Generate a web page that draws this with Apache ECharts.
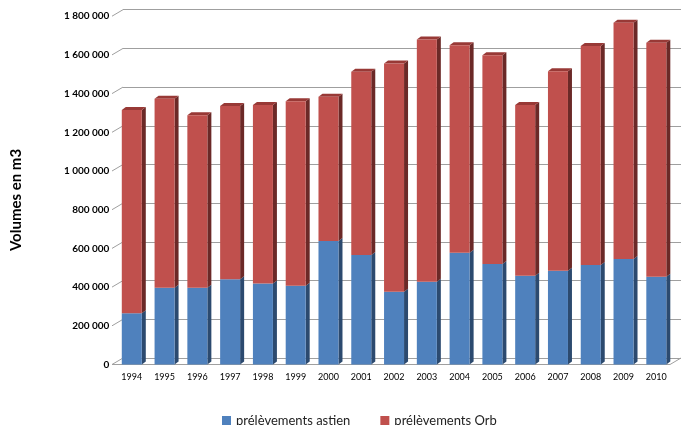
<!DOCTYPE html>
<html>
<head>
<meta charset="utf-8">
<script src="https://cdn.jsdelivr.net/npm/echarts@6/dist/echarts.min.js"></script>
<style>
    html, body { margin: 0; padding: 0; background: #fff; }
    #volumes { width: 688px; height: 425px; }
</style>
</head>
<body>
<div id="volumes"></div>
<script>
var years = ['1994', '1995', '1996', '1997', '1998', '1999', '2000', '2001', '2002', '2003', '2004', '2005', '2006', '2007', '2008', '2009', '2010'];
// prélèvements astien (m3)
var astien = [265000, 397000, 397000, 440000, 418000, 407000, 638000, 566000, 376000, 428000, 578000, 519000, 459000, 485000, 514000, 545000, 454000];
// prélèvements Orb (m3)
var orb = [1050000, 976000, 891000, 896000, 923000, 954000, 746000, 947000, 1180000, 1252000, 1072000, 1079000, 882000, 1030000, 1132000, 1221000, 1209000];
var yTicks = [0, 200000, 400000, 600000, 800000, 1000000, 1200000, 1400000, 1600000, 1800000];

var VolumeChart = {
    // décalage de la profondeur (mur du fond)
    depthX: 11,
    depthY: -6.5,
    // épaisseur des barres
    barDX: 4,
    barDY: -3,
    init: function () {
        var option = {
            backgroundColor: '#ffffff',
            textStyle: { fontFamily: 'Lato' },
            grid: [
                { left: 115.4, right: 15.3, top: 16.2, bottom: 60.5 },
                { left: 123, right: 7, top: 9.7, bottom: 67 }
            ],
            xAxis: [{
                type: 'category',
                gridIndex: 0,
                data: years,
                axisLine: { show: false },
                axisTick: { show: false },
                axisLabel: { fontSize: 9, color: '#000', margin: 8, fontFamily: 'Lato' }
            }, {
                type: 'category',
                gridIndex: 1,
                data: years,
                show: false
            }],
            yAxis: [{
                type: 'value',
                gridIndex: 0,
                min: 0,
                max: 1800000,
                interval: 200000,
                axisLine: { show: false },
                axisTick: { show: false },
                splitLine: { show: false },
                axisLabel: {
                    margin: 6,
                    fontSize: 10,
                    fontWeight: 'bold',
                    color: '#000',
                    fontFamily: 'Lato',
                    padding: [4, 0, 0, 0],
                    formatter: function (v) {
                        return String(v).replace(/\B(?=(\d{3})+(?!\d))/g, ' ');
                    }
                }
            }, {
                type: 'value',
                gridIndex: 1,
                min: 0,
                max: 1800000,
                interval: 200000,
                axisLine: { show: false },
                axisTick: { show: false },
                axisLabel: { show: false },
                splitLine: { show: true, lineStyle: { color: '#9f9f9f', width: 1 } }
            }],
            legend: {
                top: 409,
                left: 217,
                icon: 'rect',
                itemWidth: 9,
                itemHeight: 9,
                itemGap: 30,
                textStyle: { fontSize: 13, color: '#222', fontFamily: 'Lato' },
                data: ['prélèvements astien', 'prélèvements Orb']
            },
            graphic: [{
                type: 'text',
                x: 16,
                y: 200,
                rotation: Math.PI / 2,
                style: {
                    text: 'Volumes en m3',
                    font: 'bold 15px Lato',
                    fill: '#000',
                    textAlign: 'center',
                    textVerticalAlign: 'middle'
                }
            }],
            series: [{
                name: 'sol',
                type: 'custom',
                xAxisIndex: 0,
                yAxisIndex: 0,
                silent: true,
                z: 1,
                data: [0],
                renderItem: VolumeChart.renderFloor
            }, {
                name: 'prélèvements astien',
                type: 'bar',
                stack: 'total',
                barWidth: 20,
                xAxisIndex: 0,
                yAxisIndex: 0,
                itemStyle: { color: '#4f81bd' },
                z: 3,
                data: astien
            }, {
                name: 'prélèvements Orb',
                type: 'bar',
                stack: 'total',
                barWidth: 20,
                xAxisIndex: 0,
                yAxisIndex: 0,
                itemStyle: { color: '#c0504d' },
                z: 3,
                data: orb
            }, {
                name: 'faces',
                type: 'custom',
                xAxisIndex: 0,
                yAxisIndex: 0,
                silent: true,
                z: 2,
                data: years.map(function (y, i) { return [i, astien[i], orb[i]]; }),
                renderItem: VolumeChart.renderFaces
            }],
            color: ['#4f81bd', '#c0504d']
        };

        var myChart = echarts.init(document.getElementById('volumes'));
        myChart.setOption(option);
    },
    // sol + liaisons entre étiquettes et quadrillage
    renderFloor: function (params, api) {
        var cs = params.coordSys;
        var dx = VolumeChart.depthX, dy = VolumeChart.depthY;
        var x0 = cs.x - 3.4;
        var x1 = cs.x + cs.width - 2.7;
        var y0 = api.coord([0, 0])[1];
        var lines = [];
        var style = { stroke: '#9f9f9f', lineWidth: 1, fill: null };
        yTicks.forEach(function (v) {
            var y = api.coord([0, v])[1];
            lines.push({ type: 'line', shape: { x1: x0, y1: y, x2: x0 + dx, y2: y + dy }, style: style });
        });
        lines.push({ type: 'line', shape: { x1: x0, y1: y0, x2: x1, y2: y0 }, style: style });
        lines.push({ type: 'line', shape: { x1: x1, y1: y0, x2: x1 + dx, y2: y0 + dy }, style: style });
        return { type: 'group', children: lines };
    },
    // côtés et dessus des barres
    renderFaces: function (params, api) {
        var i = api.value(0);
        var a = api.value(1);
        var o = api.value(2);
        var w = 20;
        var dx = VolumeChart.barDX, dy = VolumeChart.barDY;
        var base = api.coord([i, 0]);
        var mid = api.coord([i, a]);
        var top = api.coord([i, a + o]);
        var xr = base[0] + w / 2;
        var xl = base[0] - w / 2;
        function side(yT, yB, color) {
            return {
                type: 'polygon',
                shape: { points: [[xr, yT], [xr + dx, yT + dy], [xr + dx, yB + dy], [xr, yB]] },
                style: { fill: color }
            };
        }
        return {
            type: 'group',
            children: [
                side(mid[1], base[1], '#2c4a6f'),
                side(top[1], mid[1], '#6b2927'),
                {
                    type: 'polygon',
                    shape: { points: [[xl, top[1]], [xr, top[1]], [xr + dx, top[1] + dy], [xl + dx, top[1] + dy]] },
                    style: { fill: '#983936' }
                }
            ]
        };
    }
};

VolumeChart.init();
</script>
</body>
</html>
